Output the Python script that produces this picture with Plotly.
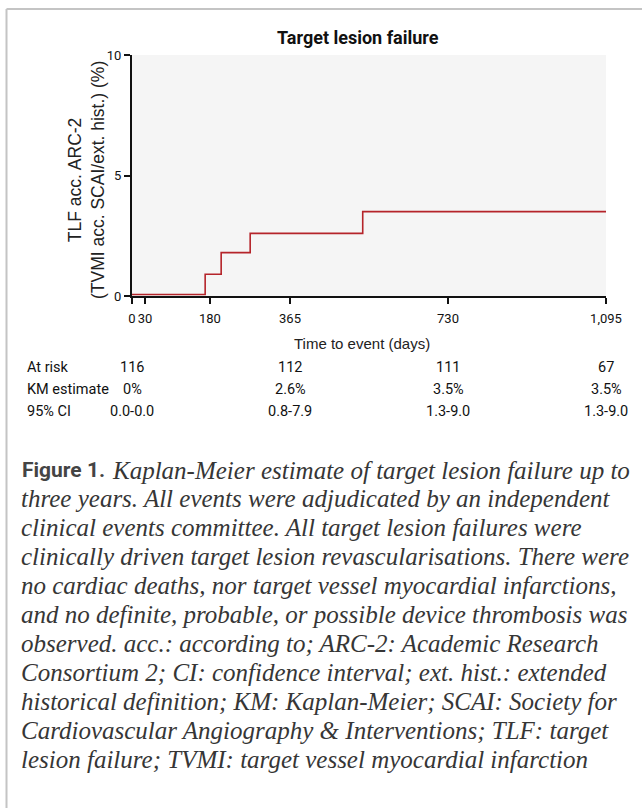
import plotly.graph_objects as go

# ---- data ----
days = [0, 169, 206, 273, 533, 1095]
tlf_pct = [0.06, 0.9, 1.8, 2.6, 3.5, 3.5]

x_tickvals = [0, 30, 180, 365, 730, 1095]
x_ticktext = ["0", "30", "180", "365", "730", "1,095"]
y_tickvals = [0, 5, 10]

risk_days = [0, 365, 730, 1095]
risk_labels = ["At risk", "KM estimate", "95% CI"]
at_risk = ["116", "112", "111", "67"]
km_est = ["0%", "2.6%", "3.5%", "3.5%"]
ci95 = ["0.0-0.0", "0.8-7.9", "1.3-9.0", "1.3-9.0"]

caption_lines = [
    "Kaplan-Meier estimate of target lesion failure up to",
    "three years. All events were adjudicated by an independent",
    "clinical events committee. All target lesion failures were",
    "clinically driven target lesion revascularisations. There were",
    "no cardiac deaths, nor target vessel myocardial infarctions,",
    "and no definite, probable, or possible device thrombosis was",
    "observed. acc.: according to; ARC-2: Academic Research",
    "Consortium 2; CI: confidence interval; ext. hist.: extended",
    "historical definition; KM: Kaplan-Meier; SCAI: Society for",
    "Cardiovascular Angiography &amp; Interventions; TLF: target",
    "lesion failure; TVMI: target vessel myocardial infarction",
]

# ---- layout geometry (pixels) ----
W, H = 642, 808
L, R, T, B = 132, 606, 55, 296
PW, PH = R - L, B - T

def px(x):
    return (x - L) / PW

def py(y):
    return (B - y) / PH

COND = "Roboto, Liberation Sans, sans-serif"
SANS = "Liberation Sans, Arial, sans-serif"
SERIF = "Liberation Serif, Times New Roman, serif"

fig = go.Figure()
fig.add_trace(go.Scatter(
    x=days, y=tlf_pct, mode="lines", line=dict(shape="hv", color="#b5242a", width=1.6),
    hoverinfo="skip", showlegend=False, cliponaxis=False,
))

ann = []
ann.append(dict(text="<b>Target lesion failure</b>", x=px(358), y=py(37), xref="paper", yref="paper",
                showarrow=False, font=dict(family=COND, size=18, color="#111"),
                xanchor="center", yanchor="middle"))
ann.append(dict(text="TLF acc. ARC-2<br>(TVMI acc. SCAI/ext. hist.) (%)", x=px(86), y=py(180),
                xref="paper", yref="paper", showarrow=False, textangle=-90,
                font=dict(family=SANS, size=17.5, color="#222"), xanchor="center", yanchor="middle"))
ann.append(dict(text="Time to event (days)", x=px(362), y=py(343), xref="paper", yref="paper",
                showarrow=False, font=dict(family=SANS, size=15, color="#222"),
                xanchor="center", yanchor="middle"))

row_y = [367, 389, 411]
for lab, yy in zip(risk_labels, row_y):
    ann.append(dict(text=lab, x=px(25), y=py(yy), xref="paper", yref="paper", showarrow=False,
                    font=dict(family=COND, size=14.5, color="#111"), xanchor="left", yanchor="middle"))
for vals, yy in zip([at_risk, km_est, ci95], row_y):
    for d, v in zip(risk_days, vals):
        ann.append(dict(text=v, x=d, y=py(yy), xref="x", yref="paper", showarrow=False,
                        font=dict(family=COND, size=14.5, color="#111"), xanchor="center", yanchor="middle"))

cap_y0, cap_dy = 470, 28.9
ann.append(dict(text="<b>Figure 1.</b>", x=px(20), y=py(cap_y0), xref="paper", yref="paper",
                showarrow=False, font=dict(family=COND, size=21, color="#444"),
                xanchor="left", yanchor="middle"))
for i, line in enumerate(caption_lines):
    x0 = 110 if i == 0 else 19
    ann.append(dict(text="<i>" + line + "</i>", x=px(x0), y=py(cap_y0 + i * cap_dy), xref="paper",
                    yref="paper", showarrow=False, font=dict(family=SERIF, size=25, color="#363636"),
                    xanchor="left", yanchor="middle"))

shapes = [dict(type="line", xref="paper", yref="paper", x0=px(6.5), x1=px(6.5), y0=py(808), y1=py(9),
               line=dict(color="#c4c4c4", width=2)),
          dict(type="line", xref="paper", yref="paper", x0=px(6.5), x1=px(642), y0=py(9), y1=py(9),
               line=dict(color="#c4c4c4", width=2))]

fig.update_layout(
    width=W, height=H, margin=dict(l=L, r=W - R, t=T, b=H - B),
    paper_bgcolor="white", plot_bgcolor="#f5f5f5",
    annotations=ann, shapes=shapes, showlegend=False,
    xaxis=dict(range=[0, 1095], tickvals=x_tickvals, ticktext=x_ticktext, showgrid=False,
               zeroline=False, showline=True, linecolor="#111", linewidth=2, ticks="outside",
               ticklen=6, tickwidth=1.5, tickcolor="#111", tickangle=0, automargin=False,
               ticklabelstandoff=3, tickfont=dict(family=COND, size=13, color="#111")),
    yaxis=dict(range=[0, 10], tickvals=y_tickvals, showgrid=False, zeroline=False, showline=True,
               linecolor="#111", linewidth=2, ticks="outside", ticklen=6, tickwidth=1.5,
               tickcolor="#111", automargin=False, tickfont=dict(family=COND, size=13, color="#111")),
)

fig.write_html("out.html", config={"displayModeBar": False},
               post_script="document.body.style.margin='0';")
